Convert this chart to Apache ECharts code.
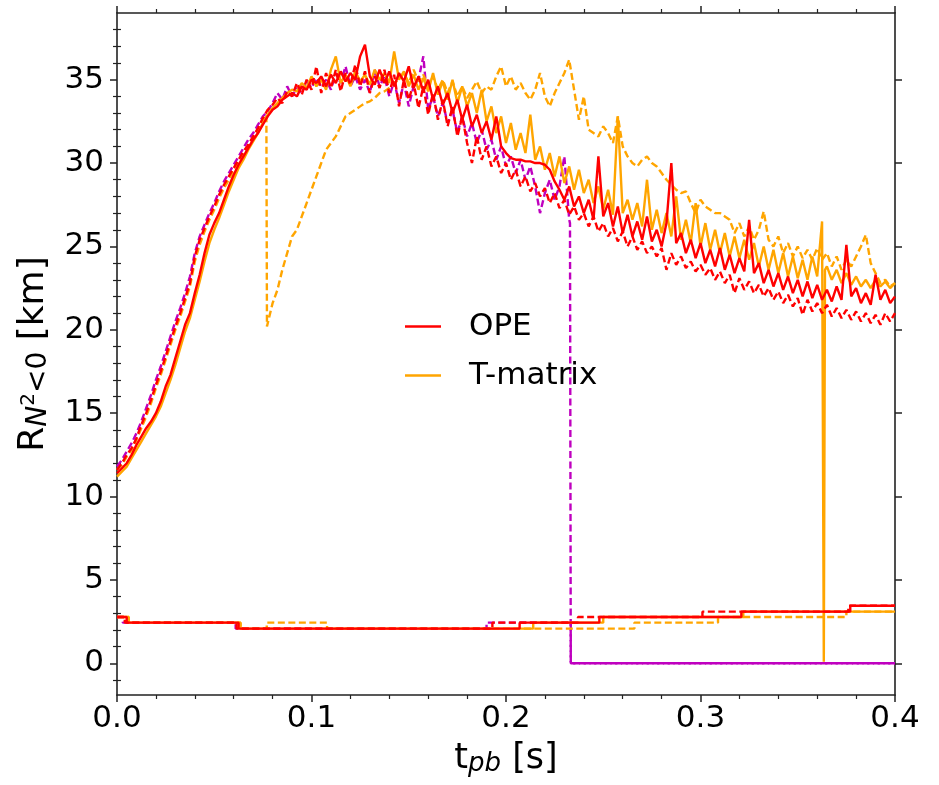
<!DOCTYPE html>
<html><head><meta charset="utf-8">
<script src="https://cdn.jsdelivr.net/npm/echarts@6/dist/echarts.min.js"></script>
<style>html,body{margin:0;padding:0;background:#fff}#c{width:939px;height:785px}</style>
</head><body><div id="c"></div>
<script>
// sampling grid of the outer-radius curves (s)
const tGrid = Array.from({length: 161}, (_, i) => +(i * 0.0025).toFixed(4));

// outer radius R [km]
const opeSolid = [11.4,11.7,12.0,12.5,13.1,13.6,14.1,14.5,15.0,15.7,16.6,17.3,18.3,19.3,20.3,21.0,22.2,23.3,24.6,25.7,
26.4,27.0,27.8,28.6,29.3,29.9,30.4,30.9,31.4,31.8,32.3,32.8,33.2,33.4,33.8,34.0,34.2,34.0,34.6,34.4,
35.0,34.8,35.2,34.6,35.3,34.8,35.5,34.9,35.4,35.0,36.4,37.1,35.2,34.7,35.6,34.8,35.5,34.6,35.4,34.9,
35.8,34.5,35.2,34.3,35.0,33.8,34.6,33.5,34.2,33.0,33.8,32.6,33.5,32.2,32.9,31.8,32.5,31.4,32.8,31.0,
30.6,30.3,30.2,30.2,30.1,30.1,30.0,30.0,29.9,29.6,28.9,28.4,27.8,28.6,27.4,28.0,27.0,27.8,26.6,30.4,
26.8,27.6,26.2,27.4,25.8,26.9,25.6,26.5,25.4,26.8,25.3,26.0,25.0,26.4,30.0,25.2,25.8,24.6,25.4,24.3,
25.2,24.0,24.8,23.8,24.9,23.6,24.5,23.4,24.3,23.5,26.6,23.4,24.0,22.8,23.6,22.6,23.4,22.4,23.2,22.2,
23.0,22.0,22.9,21.9,22.7,21.8,22.4,21.7,22.6,21.8,25.1,22.0,22.5,21.6,22.2,21.5,23.3,21.8,22.4,21.6,22.0];

const opeDashed = [11.6,12.0,12.5,12.9,13.5,14.3,15.0,15.8,16.7,17.5,18.4,19.3,20.2,21.0,21.9,22.8,24.4,25.4,26.1,26.8,
27.4,28.1,28.7,29.2,29.7,30.2,30.7,31.1,31.6,32.1,32.7,33.2,33.5,33.9,33.6,34.3,34.0,34.8,34.1,35.0,
34.4,35.8,34.2,35.4,34.5,35.6,34.3,35.4,34.7,35.9,34.6,35.5,34.2,35.2,34.5,35.6,34.2,35.3,33.4,35.0,
33.8,34.8,33.3,34.6,32.9,34.2,32.6,33.8,32.2,33.4,31.6,32.8,31.2,30.0,31.6,30.2,31.0,29.8,30.4,29.4,
30.0,29.0,29.6,28.6,29.2,28.3,28.8,28.0,28.5,27.6,28.2,27.3,27.8,26.9,27.4,26.6,27.0,26.2,26.8,25.9,
26.4,25.6,26.1,25.3,25.9,25.0,25.6,24.8,25.3,24.6,25.0,24.4,24.9,23.6,24.6,23.9,24.4,23.7,24.1,23.5,
23.9,23.3,23.7,23.0,23.5,22.8,23.3,22.2,23.1,22.4,22.9,22.2,22.7,22.0,22.5,21.8,22.3,21.6,22.1,21.4,
21.9,20.9,21.8,21.1,21.6,21.0,21.5,20.8,21.3,20.7,21.2,20.6,21.1,20.5,21.0,20.4,20.9,20.3,21.0,20.5,21.0];

const tmSolid = [11.2,11.5,11.8,12.3,12.8,13.3,13.8,14.3,14.8,15.4,16.2,17.0,17.9,18.9,19.9,20.7,21.8,22.9,24.1,25.2,
26.0,26.7,27.5,28.3,29.0,29.7,30.2,30.8,31.3,31.8,32.4,32.9,33.3,33.6,33.9,34.2,34.4,34.3,34.8,34.5,
35.2,34.6,35.0,34.4,35.6,36.4,34.8,35.3,34.6,35.5,34.9,35.3,34.7,35.6,35.0,35.4,34.8,36.7,35.0,35.5,
34.6,35.3,34.4,35.1,34.3,35.4,34.1,34.9,33.8,35.0,33.6,34.6,33.4,34.2,33.0,34.4,32.5,33.4,31.8,32.8,
31.2,32.4,30.8,31.8,30.6,32.9,30.2,31.0,29.6,30.6,29.2,30.4,28.8,29.8,28.4,29.6,28.2,29.0,27.6,28.6,
27.2,28.4,26.9,32.8,27.0,27.8,26.6,27.6,26.2,29.0,26.0,27.2,25.8,27.0,25.6,28.0,25.4,26.6,25.2,27.6,
25.0,26.4,24.8,26.0,24.6,25.8,24.4,25.6,24.3,25.4,24.2,25.2,23.8,25.0,23.6,24.8,23.4,24.6,23.2,24.4,
23.1,24.2,23.0,24.4,23.2,26.5,23.8,23.0,23.6,22.8,23.4,22.7,23.2,22.6,23.0,22.5,23.0,22.6,22.9,22.5,22.8];
const tmSolidExtra = [[0.3634, 0.1], [0.3640, 23.6]];

const tmDashed = [11.6,11.9,12.4,12.8,13.4,14.1,14.8,15.6,16.5,17.3,18.2,19.1,20.0,20.8,21.7,22.6,24.1,25.1,25.9,26.6,
27.2,27.9,28.5,29.0,29.6,30.1,30.6,31.0,31.5,32.0,32.6,20.4,21.6,22.4,23.6,24.6,25.6,26.0,26.8,27.6,
28.4,29.2,30.0,30.8,31.2,31.6,32.2,32.8,33.0,33.2,33.4,33.6,33.7,33.9,34.2,34.3,34.5,34.8,35.0,35.4,
34.8,35.6,34.9,35.3,34.6,35.2,34.4,35.0,34.2,34.9,34.0,34.6,33.9,34.4,34.9,34.2,34.6,34.4,35.2,35.8,
34.6,35.2,34.4,34.8,34.2,33.8,34.4,35.4,34.0,33.4,34.2,34.8,35.4,36.2,34.4,32.6,34.0,32.0,31.8,31.6,
32.2,31.8,31.2,32.8,31.0,30.4,30.0,29.8,30.2,30.4,30.0,29.8,29.4,29.0,28.7,28.4,28.2,28.3,27.6,27.0,
27.8,27.4,27.2,27.0,27.0,26.8,26.6,25.8,26.4,25.6,26.2,25.4,26.0,27.1,25.4,25.0,25.6,24.6,25.2,24.4,
25.0,24.3,24.8,24.2,24.9,24.2,24.6,23.8,24.4,23.6,24.2,23.8,24.4,25.0,25.7,24.0,23.4,22.8,23.0,22.6,22.8];
const tmDashedExtra = [[0.0768, 32.9], [0.0771, 20.2]];

const magDashed = [11.8,12.2,12.7,13.2,13.8,14.5,15.3,16.1,17.0,17.8,18.7,19.6,20.5,21.3,22.2,23.2,24.6,25.6,26.3,27.0,
27.6,28.3,28.9,29.4,29.9,30.4,30.9,31.4,31.8,32.3,32.8,33.1,33.6,34.2,33.8,34.6,34.0,34.5,34.2,34.9,
34.5,35.1,34.6,35.0,34.4,35.4,34.8,35.8,34.6,35.2,34.4,35.0,34.2,35.6,34.6,35.2,34.0,34.9,33.6,34.8,
33.4,34.6,35.0,36.4,33.2,34.0,32.8,33.6,32.4,33.2,31.8,32.8,31.6,32.4,31.2,32.0,30.8,31.4,30.2,31.0,
29.8,30.4,29.4,30.2,29.0,29.8,28.6,27.0,28.2,29.0,27.8,28.6,30.4,26.6,0,0,0,0,0,0,
0,0,0,0,0,0,0,0,0,0,0,0,0,0,0,0,0,0,0,0,
0,0,0,0,0,0,0,0,0,0,0,0,0,0,0,0,0,0,0,0,
0,0,0,0,0,0,0,0,0,0,0,0,0,0,0,0,0,0,0,0,0];
const magDashedExtra = [[0.2329, 26.4], [0.2333, 0]];

// inner radius: breakpoints [t, R] of the step curves
const opeSolidInner = [[0,2.78],[0.005,2.44],[0.0625,2.08],[0.207,2.44],[0.248,2.78],[0.321,3.1],[0.377,3.45],[0.4,3.45]];
const opeDashedInner = [[0,2.78],[0.004,2.44],[0.0615,2.08],[0.193,2.44],[0.237,2.78],[0.301,3.1],[0.376,3.45],[0.4,3.45]];
const tmSolidInner = [[0,2.78],[0.006,2.44],[0.0635,2.08],[0.214,2.44],[0.25,2.78],[0.322,3.1],[0.4,3.1]];
const tmDashedInner = [[0,2.78],[0.006,2.44],[0.0635,2.08],[0.077,2.44],[0.108,2.08],[0.266,2.44],[0.309,2.78],[0.375,3.1],[0.4,3.1]];
const magInner = [[0,2.78],[0.003,2.44],[0.061,2.08],[0.19,2.44],[0.2333,0],[0.4,0]];

// ticks
const yMajor = [0, 5, 10, 15, 20, 25, 30, 35];
const yMinor = [-1,1,2,3,4,6,7,8,9,11,12,13,14,16,17,18,19,21,22,23,24,26,27,28,29,31,32,33,34,36,37,38];

const RED = '#ff0000', ORANGE = '#ffa500', MAG = '#bf00bf';
const FONT = 'DejaVu Sans';
const AX = '#222';

function pairs(vals, extra) {
  const pts = tGrid.map((t, i) => [t, vals[i]]);
  if (extra) pts.push(...extra);
  pts.sort((a, b) => a[0] - b[0]);
  return pts;
}
function mk(name, data, color, dashed, step) {
  return {
    name, type: 'line', data, color, symbol: 'none', showSymbol: false,
    step: step ? 'end' : false,
    lineStyle: { color, width: 2.4, type: dashed ? [7, 3.5] : 'solid' },
    emphasis: { disabled: true }, silent: true, animation: false, clip: true,
    xAxisIndex: 0, yAxisIndex: 0
  };
}

const chart = echarts.init(document.getElementById('c'));
const axisLine = { show: true, onZero: false, lineStyle: { color: AX, width: 1.6 } };
const yMajorTick = { show: true, inside: false, length: 7, customValues: yMajor, lineStyle: { color: AX, width: 1.5 } };
const yMinorTick = { show: true, inside: false, length: 4, customValues: yMinor, lineStyle: { color: AX, width: 1.2 } };

chart.setOption({
  animation: false,
  backgroundColor: '#fff',
  grid: { left: 117, right: 44, top: 13, bottom: 90, containLabel: false },
  legend: {
    data: ['OPE', 'T-matrix'], orient: 'vertical', left: 405, top: 311, padding: 0,
    icon: 'rect', itemWidth: 36, itemHeight: 2.6, itemGap: 18, selectedMode: false,
    textStyle: { fontSize: 31, color: '#000', fontFamily: FONT, padding: [0, 0, 0, 23] }
  },
  xAxis: [
    {
      type: 'value', min: 0, max: 0.4, interval: 0.1, position: 'bottom',
      axisLine, splitLine: { show: false },
      axisTick: { show: true, inside: false, length: 7, lineStyle: { color: AX, width: 1.5 } },
      minorTick: { show: true, splitNumber: 5, length: 4, lineStyle: { color: AX, width: 1.2 } },
      axisLabel: { fontSize: 31, color: '#000', fontFamily: FONT, margin: 8, formatter: v => v.toFixed(1) },
      name: '{m|t}{s|pb}{m| [s]}', nameLocation: 'middle', nameGap: 46,
      nameTextStyle: {
        color: '#000', fontFamily: FONT, fontSize: 35,
        rich: {
          m: { fontSize: 35, fontFamily: FONT, color: '#000' },
          s: { fontSize: 26, fontFamily: FONT, fontStyle: 'italic', color: '#000', padding: [10, 0, 0, 0] }
        }
      }
    },
    {
      type: 'value', min: 0, max: 0.4, interval: 0.1, position: 'top',
      axisLine, splitLine: { show: false }, axisLabel: { show: false },
      axisTick: { show: true, inside: false, length: 7, lineStyle: { color: AX, width: 1.5 } },
      minorTick: { show: true, splitNumber: 5, length: 4, lineStyle: { color: AX, width: 1.2 } }
    }
  ],
  yAxis: [
    {
      type: 'value', min: -1.9, max: 39, position: 'left',
      axisLine, splitLine: { show: false }, axisTick: yMajorTick,
      axisLabel: { fontSize: 31, color: '#000', fontFamily: FONT, margin: 13, customValues: yMajor },
      name: '{m|R}{si|N}{ss|2}{s|<0}{m| [km]}', nameLocation: 'middle', nameRotate: 90, nameGap: 64,
      nameTextStyle: {
        color: '#000', fontFamily: FONT, fontSize: 36,
        rich: {
          m: { fontSize: 36, fontFamily: FONT, color: '#000' },
          si: { fontSize: 28, fontFamily: FONT, fontStyle: 'italic', color: '#000', padding: [10, 0, 0, 0] },
          ss: { fontSize: 20, fontFamily: FONT, color: '#000', padding: [0, 0, 10, 0] },
          s: { fontSize: 28, fontFamily: FONT, color: '#000', padding: [10, 0, 0, 0] }
        }
      }
    },
    {
      type: 'value', min: -1.9, max: 39, position: 'right',
      axisLine, splitLine: { show: false }, axisTick: yMajorTick,
      axisLabel: { show: false }
    },
    {
      type: 'value', min: -1.9, max: 39, position: 'left',
      axisLine: { show: false }, splitLine: { show: false }, axisTick: yMinorTick,
      axisLabel: { show: false }
    },
    {
      type: 'value', min: -1.9, max: 39, position: 'right',
      axisLine: { show: false }, splitLine: { show: false }, axisTick: yMinorTick,
      axisLabel: { show: false }
    }
  ],
  series: [
    mk('mag outer', pairs(magDashed, magDashedExtra), MAG, true),
    mk('mag inner', magInner, MAG, true, true),
    mk('T-matrix dashed', pairs(tmDashed, tmDashedExtra), ORANGE, true),
    mk('T-matrix', pairs(tmSolid, tmSolidExtra), ORANGE, false),
    mk('OPE dashed', pairs(opeDashed), RED, true),
    mk('OPE', pairs(opeSolid), RED, false),
    mk('T-matrix dashed inner', tmDashedInner, ORANGE, true, true),
    mk('T-matrix inner', tmSolidInner, ORANGE, false, true),
    mk('OPE dashed inner', opeDashedInner, RED, true, true),
    mk('OPE inner', opeSolidInner, RED, false, true)
  ]
});
</script>
</body></html>
